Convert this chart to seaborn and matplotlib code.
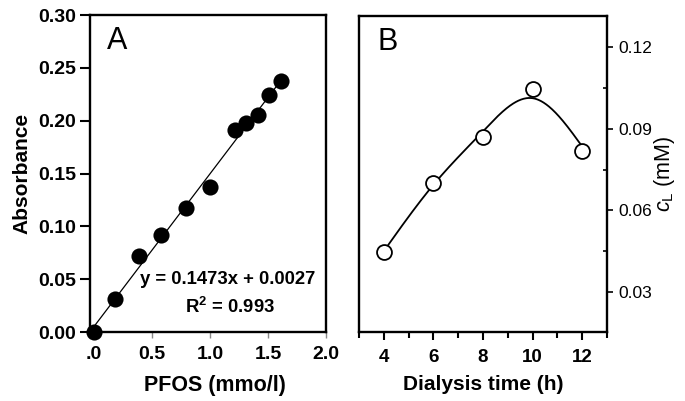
import numpy as np
import pandas as pd
import matplotlib
matplotlib.use("Agg")
import matplotlib.pyplot as plt
import seaborn as sns
from matplotlib.ticker import MultipleLocator, FixedLocator

sns.set_theme(style="white")
plt.rcParams['font.family'] = ['Liberation Sans', 'DejaVu Sans']
plt.rcParams['mathtext.fontset'] = 'custom'
plt.rcParams['mathtext.rm'] = 'Liberation Sans'
plt.rcParams['mathtext.it'] = 'Liberation Sans:italic'
plt.rcParams['mathtext.bf'] = 'Liberation Sans:bold'
plt.rcParams['text.color'] = 'black'
plt.rcParams['axes.labelcolor'] = 'black'
plt.rcParams['xtick.labelcolor'] = 'black'
plt.rcParams['ytick.labelcolor'] = 'black'

# Panel A data
pfos = [0.0, 0.18, 0.39, 0.58, 0.79, 1.0, 1.21, 1.31, 1.41, 1.51, 1.61]
absorbance = [0.0, 0.0315, 0.0715, 0.0914, 0.117, 0.137, 0.191, 0.1975, 0.205, 0.224, 0.238]
a_xticks = [0.0, 0.5, 1.0, 1.5, 2.0]
a_xticklabels = [".0", "0.5", "1.0", "1.5", "2.0"]
a_yticks = [0.00, 0.05, 0.10, 0.15, 0.20, 0.25, 0.30]
eq_text = "y = 0.1473x + 0.0027"
r2_text = r"R$^\mathbf{2}$ = 0.993"

# Panel B data
time_h = [4, 6, 8, 10, 12]
cl_mM = [0.0447, 0.0700, 0.0869, 0.1047, 0.0818]
b_xticks = [4, 6, 8, 10, 12]
b_yticks = [0.03, 0.06, 0.09, 0.12]

dfa = pd.DataFrame({"x": pfos, "y": absorbance})
dfb = pd.DataFrame({"x": time_h, "y": cl_mM})


def smoothing_spline(x, y, lam, xs):
    """Reinsch natural cubic smoothing spline."""
    x = np.asarray(x, float)
    y = np.asarray(y, float)
    n = len(x)
    h = np.diff(x)
    Q = np.zeros((n, n - 2))
    R = np.zeros((n - 2, n - 2))
    for j in range(1, n - 1):
        Q[j - 1, j - 1] = 1 / h[j - 1]
        Q[j, j - 1] = -1 / h[j - 1] - 1 / h[j]
        Q[j + 1, j - 1] = 1 / h[j]
        R[j - 1, j - 1] = (h[j - 1] + h[j]) / 3
        if j < n - 2:
            R[j - 1, j] = h[j] / 6
            R[j, j - 1] = h[j] / 6
    K = Q @ np.linalg.solve(R, Q.T)
    g = np.linalg.solve(np.eye(n) + lam * K, y)
    gam = np.concatenate([[0], np.linalg.solve(R, Q.T @ g), [0]])
    out = np.empty_like(xs)
    for k, xv in enumerate(xs):
        i = min(max(np.searchsorted(x, xv) - 1, 0), n - 2)
        hi = h[i]
        a = xv - x[i]
        b = x[i + 1] - xv
        out[k] = (a * g[i + 1] + b * g[i]) / hi - a * b / 6 * (
            (1 + a / hi) * gam[i + 1] + (1 + b / hi) * gam[i])
    return out


fig = plt.figure(figsize=(6.85, 4.01), dpi=100)
axA = fig.add_axes([0.1314, 0.172, 0.345, 0.7905])
axB = fig.add_axes([0.524, 0.172, 0.362, 0.788])

# ---- Panel A ----
sns.regplot(data=dfa, x="x", y="y", ax=axA, ci=None,
            scatter_kws=dict(s=135, color="black", alpha=1, linewidths=0, clip_on=False, zorder=3),
            line_kws=dict(color="black", lw=0.9))
axA.set_xlim(-0.035, 2.0)
axA.set_ylim(0, 0.30)
axA.set_xticks(a_xticks)
axA.set_xticklabels(a_xticklabels)
axA.set_yticks(a_yticks)
axA.set_yticklabels([f"{v:.2f}" for v in a_yticks])
axA.tick_params(axis="y", direction="out", length=7, width=1.5, color="black", left=True,
                labelsize=14, pad=3, labelcolor="black")
axA.tick_params(axis="x", direction="out", length=4, width=1, color="#888888", bottom=True,
                labelsize=14, pad=6, labelcolor="black")
for lab in axA.get_xticklabels() + axA.get_yticklabels():
    lab.set_fontweight("bold")
for sp in axA.spines.values():
    sp.set_visible(True)
    sp.set_color("black")
    sp.set_linewidth(1.7)
axA.set_xlabel("PFOS (mmo/l)", fontsize=15.5, fontweight="bold", color="black")
axA.xaxis.set_label_coords(0.53, -0.135)
axA.set_ylabel("Absorbance", fontsize=15, fontweight="bold", labelpad=5, color="black")
axA.text(0.114, 0.918, "A", transform=axA.transAxes, fontsize=22, ha="center", va="center",
         color="black")
axA.text((227 - 90) / 236, (332 - 279) / 317, eq_text, transform=axA.transAxes,
         fontsize=13.3, fontweight="bold", ha="center", va="center", color="black")
axA.text((230 - 90) / 236, (332 - 307) / 317, r2_text, transform=axA.transAxes,
         fontsize=13.3, fontweight="bold", ha="center", va="center", color="black")

# ---- Panel B ----
sns.scatterplot(data=dfb, x="x", y="y", ax=axB, s=115, facecolor="white", edgecolor="black",
                linewidth=1.3, zorder=3)
xs = np.linspace(min(time_h), max(time_h), 300)
sns.lineplot(x=xs, y=smoothing_spline(time_h, cl_mM, 0.3, xs), ax=axB, color="black", lw=1.3,
             zorder=2)
axB.set_xlim(3, 13)
axB.set_ylim(0.0153, 0.1314)
axB.xaxis.set_major_locator(FixedLocator(b_xticks))
axB.xaxis.set_minor_locator(MultipleLocator(1))
axB.set_yticks(b_yticks)
axB.set_yticklabels([f"{v:.2f}" for v in b_yticks])
axB.yaxis.set_minor_locator(FixedLocator([0.045, 0.075, 0.105]))
axB.yaxis.tick_right()
axB.yaxis.set_label_position("right")
axB.tick_params(axis="x", which="major", direction="out", length=6, width=1.5, color="black",
                bottom=True, labelsize=13.5, pad=6, labelcolor="black")
axB.tick_params(axis="x", which="minor", direction="out", length=4, width=1.5, color="black", bottom=True)
axB.tick_params(axis="y", which="major", direction="out", length=4, width=1.2, color="black",
                right=True, left=False, labelsize=12.5, pad=4, labelcolor="black")
axB.tick_params(axis="y", which="minor", direction="in", length=3, width=1.2, color="black",
                right=True, left=False)
for lab in axB.get_xticklabels():
    lab.set_fontweight("bold")
for sp in axB.spines.values():
    sp.set_visible(True)
    sp.set_color("black")
    sp.set_linewidth(1.7)
axB.set_xlabel("Dialysis time (h)", fontsize=15, fontweight="bold", labelpad=7, color="black")
axB.set_ylabel(r"$c_\mathrm{L}$ (mM)", fontsize=15.5, rotation=90, labelpad=0, color="black")
axB.text(0.117, 0.918, "B", transform=axB.transAxes, fontsize=22, ha="center", va="center",
         color="black")

fig.savefig("out.png", dpi=100)
